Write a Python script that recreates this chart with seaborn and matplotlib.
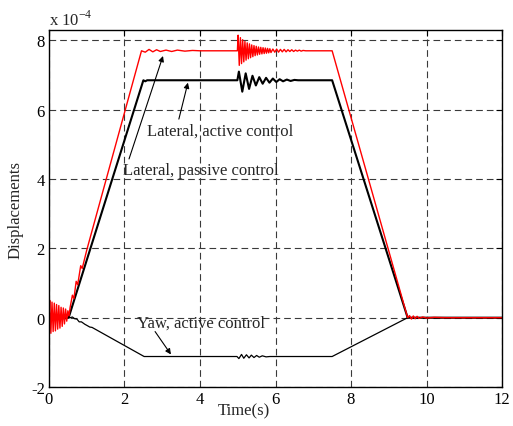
import numpy as np
import pandas as pd
import matplotlib
matplotlib.use("Agg")
import matplotlib.pyplot as plt
import seaborn as sns

# values in units of 1e-4
# lateral, passive control (red)
red_t_rise = [0, 0.02, 0.05, 0.08, 0.11, 0.14, 0.17, 0.20, 0.23, 0.26,
              0.29, 0.32, 0.35, 0.38, 0.41, 0.44, 0.47, 0.50, 0.53, 0.56,
              0.62, 0.66, 0.72, 0.76, 0.84, 0.88, 1.0,
              2.45, 2.55, 2.65, 2.75, 2.85, 2.95, 3.1, 3.25, 3.4, 3.6, 3.8, 4.0]
red_v_rise = [0, 0.5, -0.45, 0.45, -0.4, 0.42, -0.38, 0.38, -0.33, 0.35,
              -0.3, 0.3, -0.25, 0.28, -0.18, 0.25, -0.1, 0.2, 0.05, 0.3,
              0.65, 0.55, 1.05, 0.95, 1.5, 1.42, 1.95,
              7.7, 7.66, 7.74, 7.67, 7.73, 7.68, 7.72, 7.68, 7.72, 7.69, 7.71, 7.7]
red_t_osc = [4.99, 5.01, 5.04, 5.07, 5.10, 5.13, 5.16, 5.19, 5.22, 5.25,
             5.28, 5.31, 5.34, 5.37, 5.40, 5.43, 5.46, 5.49, 5.52, 5.55,
             5.58, 5.61, 5.64, 5.67, 5.70, 5.73, 5.76, 5.79, 5.82, 5.85,
             5.88, 5.93, 5.98, 6.03, 6.08, 6.13, 6.18, 6.23, 6.28, 6.33,
             6.38, 6.43, 6.48, 6.53, 6.58, 6.63, 6.68, 6.73, 6.8, 6.9]
red_v_osc = [7.7, 8.15, 7.28, 8.08, 7.33, 8.02, 7.38, 7.97, 7.43, 7.93,
             7.47, 7.9, 7.5, 7.87, 7.53, 7.85, 7.56, 7.83, 7.58, 7.81,
             7.6, 7.8, 7.61, 7.79, 7.62, 7.78, 7.63, 7.77, 7.64, 7.76,
             7.65, 7.75, 7.66, 7.75, 7.66, 7.74, 7.67, 7.74, 7.67, 7.73,
             7.68, 7.73, 7.68, 7.72, 7.69, 7.72, 7.69, 7.71, 7.7, 7.7]
red_t_fall = [7.5, 9.5, 9.55, 9.6, 9.65, 9.7, 9.75, 9.8, 9.9, 10.0, 10.2, 10.5, 12]
red_v_fall = [7.7, 0, 0.06, -0.04, 0.05, -0.03, 0.04, -0.02, 0.02, -0.01, 0.01, 0, 0]

# lateral, active control (black)
act_t = [0, 0.1, 0.2, 0.3, 0.4, 0.52, 2.5, 2.55, 2.6,
         4.99, 5.03, 5.12, 5.21, 5.30, 5.39, 5.48, 5.57, 5.66, 5.75,
         5.84, 5.93, 6.02, 6.11, 6.2, 6.3, 6.4, 6.5, 6.6,
         7.5, 9.5, 12]
act_v = [0, 0.03, -0.03, 0.03, -0.02, 0, 6.85, 6.82, 6.85,
         6.85, 7.1, 6.52, 7.05, 6.6, 6.98, 6.7, 6.94, 6.75, 6.92,
         6.78, 6.9, 6.8, 6.88, 6.82, 6.87, 6.83, 6.86, 6.85,
         6.85, 0, 0]

# yaw, active control (black, thin)
yaw_t = [0, 0.56, 0.62, 0.68, 0.74, 0.8, 0.86, 0.95, 1.0, 1.08, 1.14, 2.52,
         4.98, 5.03, 5.1, 5.16, 5.23, 5.3, 5.36, 5.43, 5.5, 5.57, 5.65, 5.75, 5.85,
         7.5, 9.5, 12]
yaw_v = [0, 0, 0.02, -0.03, -0.04, -0.12, -0.12, -0.19, -0.22, -0.27, -0.28, -1.12,
         -1.12, -1.18, -1.06, -1.17, -1.07, -1.16, -1.08, -1.15, -1.09, -1.14, -1.1, -1.13, -1.12,
         -1.12, 0, 0]

red = pd.DataFrame({"t": red_t_rise + red_t_osc + red_t_fall,
                    "v": red_v_rise + red_v_osc + red_v_fall})
act = pd.DataFrame({"t": act_t, "v": act_v})
yaw = pd.DataFrame({"t": yaw_t, "v": yaw_v})

sns.set_style("white")
plt.rcParams["font.family"] = ["Liberation Serif", "DejaVu Serif"]
plt.rcParams["font.size"] = 12
plt.rcParams["axes.unicode_minus"] = False

fig = plt.figure(figsize=(5.13, 4.27), dpi=100)
ax = fig.add_axes([0.0955, 0.0913, 0.8831, 0.8361])

sns.lineplot(data=yaw, x="t", y="v", color="black", lw=0.9, sort=False, estimator=None, ax=ax)
sns.lineplot(data=act, x="t", y="v", color="black", lw=1.5, sort=False, estimator=None, ax=ax)
sns.lineplot(data=red, x="t", y="v", color="red", lw=1.0, sort=False, estimator=None, ax=ax)

ax.set_xlim(0, 12)
ax.set_ylim(-2, 8.3)
ax.set_xticks(np.arange(0, 13, 2))
ax.set_yticks(np.arange(-2, 9, 2))
ax.grid(True, color="#3a3a3a", linestyle=(0, (6, 3.6)), linewidth=0.8)
ax.tick_params(direction="in", length=4, width=0.8, top=True, right=True,
               labelsize=12, colors="black", pad=3)
for s in ax.spines.values():
    s.set_color("black")
    s.set_linewidth(1.0)

ax.set_xlabel("Time(s)", fontsize=12)
ax.set_ylabel("Displacements", fontsize=12)
ax.xaxis.set_label_coords(0.43, -0.042)
ax.yaxis.set_label_coords(-0.057, 0.5)
ax.text(0, 1.005, r"x 10$^{\mathregular{-4}}$", transform=ax.transAxes,
        ha="left", va="bottom", fontsize=12)

arrow = dict(arrowstyle="-|>", color="black", lw=0.8, mutation_scale=8,
             shrinkA=0, shrinkB=0)
ax.text(4.54, 5.39, "Lateral, active control", ha="center", va="center")
ax.annotate("", xy=(3.68, 6.78), xytext=(3.44, 5.73), arrowprops=arrow)
ax.text(4.03, 4.27, "Lateral, passive control", ha="center", va="center")
ax.annotate("", xy=(3.02, 7.55), xytext=(2.12, 4.58), arrowprops=arrow)
ax.text(4.03, -0.14, "Yaw, active control", ha="center", va="center")
ax.annotate("", xy=(3.23, -1.06), xytext=(2.81, -0.40), arrowprops=arrow)

fig.savefig("out.png", dpi=100)
